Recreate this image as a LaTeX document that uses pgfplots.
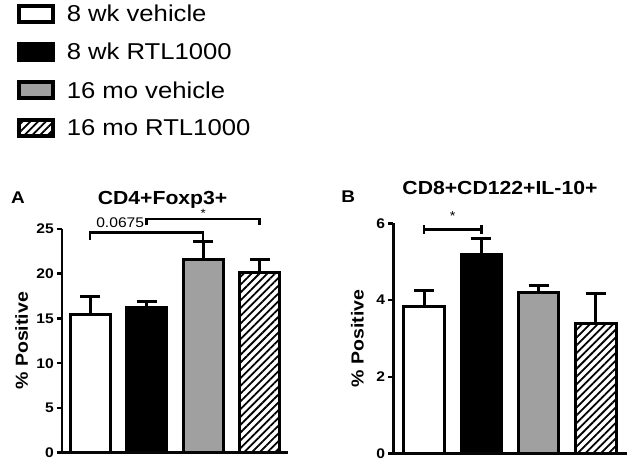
\documentclass[border=0pt]{standalone}
\usepackage{fontspec}
\setmainfont{Liberation Sans}[FakeStretch=1.12]
\usepackage{pgfplots}
\pgfplotsset{compat=1.18}
\usetikzlibrary{patterns.meta}
\definecolor{barGray}{RGB}{160,160,160}
\definecolor{axk}{RGB}{6,6,6}

\pgfplotsset{
  prism/.style={
    scale only axis,
    ybar, bar shift=0pt,
    axis x line*=bottom, axis y line*=left,
    axis line style={line width=2.5bp, axk, -},
    xtick=\empty,
    tick align=outside,
    major tick length=5bp,
    ytick style={line width=2.5bp, black},
    /pgf/number format/assume math mode=true,
    yticklabel style={font=\bfseries\fontsize{14}{15}\selectfont, inner sep=0pt, xshift=-3bp},
    ylabel style={font=\bfseries\fontsize{17.5}{19}\selectfont},
    clip=false,
    ymin=0,
    error bars/y dir=plus, error bars/y explicit,
    error bars/error bar style={line width=3bp, black},
    error bars/error mark options={rotate=90, line width=3bp, black, mark size=10bp},
  },
  barstyle/.style={draw=black, line width=3bp},
}

\begin{document}
\begin{tikzpicture}
\useasboundingbox (0,0) rectangle (630bp,463bp);

% Panel A
\begin{axis}[prism, name=A,
  at={(62bp,10.3bp)}, anchor=south west,
  width=226bp, height=223.7bp,
  xmin=-0.5, xmax=3.5, ymax=25,
  bar width=40bp,
  ytick={0,5,10,15,20,25},
  ylabel={\% Positive},
  ylabel style={at={(axis description cs:-0.135,0.5)}},
  legend style={at={(axis description cs:-0.201,2.01)}, anchor=north west,
    draw=none, fill=none, inner sep=0pt,
    font=\fontsize{23}{26}\selectfont, row sep=16bp,
    cells={anchor=west},
    /tikz/every odd column/.append style={column sep=10bp}},
  legend image code/.code={\draw[#1, line width=4bp] (2bp,-8bp) rectangle (36bp,8bp);},
]
\addplot[barstyle, fill=white] coordinates {(0,15.39) +- (0,2.04)};
\addplot[barstyle, fill=black] coordinates {(1,16.2) +- (0,0.67)};
\addplot[barstyle, fill=barGray] coordinates {(2,21.64) +- (0,2.01)};
\addplot[barstyle, fill=white, postaction={pattern={Lines[angle=45,distance=5.5bp,line width=1.8bp]}}] coordinates {(3,20.16) +- (0,1.45)};
\legend{8 wk vehicle, 8 wk RTL1000, 16 mo vehicle, 16 mo RTL1000}
\draw[line width=2.5bp] (axis cs:0,23.77) -- (axis cs:0,24.63) -- (axis cs:2,24.63) -- (axis cs:2,23.77);
\draw[line width=2.5bp] (axis cs:1,25.4) -- (axis cs:1,26.1) -- (axis cs:3,26.1) -- (axis cs:3,25.4);
\node[font=\fontsize{14}{15}\selectfont] at (axis cs:0.53,25.75) {0.0675};
\node[font=\fontsize{12}{13}\selectfont] at (axis cs:2,26.75) {*};
\node[font=\bfseries\fontsize{19}{20}\selectfont] at (axis description cs:0.445,1.13) {CD4+Foxp3+};
\node[font=\bfseries\fontsize{17}{18}\selectfont] at (axis description cs:-0.195,1.142) {A};
\end{axis}

% Panel B
\begin{axis}[prism, name=B,
  at={(393.3bp,9.5bp)}, anchor=south west,
  width=233.4bp, height=230.2bp,
  xmin=-0.54, xmax=3.54, ymax=6,
  bar width=40.5bp,
  ytick={0,2,4,6},
  ylabel={\% Positive},
  ylabel style={at={(axis description cs:-0.111,0.5)}},
]
\addplot[barstyle, fill=white] coordinates {(0,3.84) +- (0,0.40)};
\addplot[barstyle, fill=black] coordinates {(1,5.19) +- (0,0.42)};
\addplot[barstyle, fill=barGray] coordinates {(2,4.19) +- (0,0.18)};
\addplot[barstyle, fill=white, postaction={pattern={Lines[angle=45,distance=5.5bp,line width=1.8bp]}}] coordinates {(3,3.38) +- (0,0.78)};
\draw[line width=2.5bp] (axis cs:0,5.72) -- (axis cs:0,5.96);
\draw[line width=2.5bp] (axis cs:1,5.72) -- (axis cs:1,5.96);
\draw[line width=2.5bp] (axis cs:0,5.84) -- (axis cs:1,5.84);
\node[font=\fontsize{13}{14}\selectfont] at (axis cs:0.5,6.2) {*};
\node[font=\bfseries\fontsize{19}{20}\selectfont] at (axis description cs:0.457,1.155) {CD8+CD122+IL-10+};
\node[font=\bfseries\fontsize{17}{18}\selectfont] at (axis description cs:-0.193,1.117) {B};
\end{axis}
\draw[axk, line width=2.5bp] (A.north west) -- (A.south west) -- (A.south east);
\draw[axk, line width=2.5bp] (B.north west) -- (B.south west) -- (B.south east);
\end{tikzpicture}
\end{document}
